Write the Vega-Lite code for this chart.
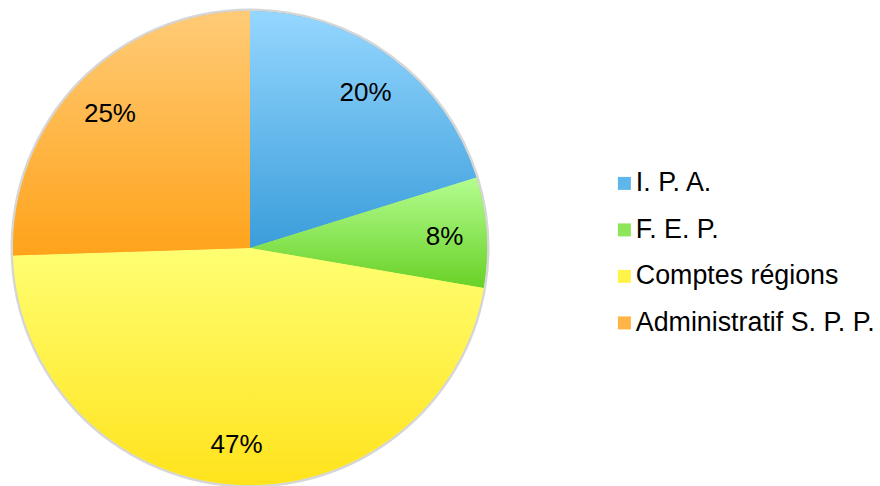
{
  "$schema": "https://vega.github.io/schema/vega-lite/v6.json",
  "width": 500,
  "height": 496,
  "padding": 0,
  "autosize": {"type": "pad"},
  "background": "white",
  "config": {"view": {"stroke": null}, "font": "Liberation Sans"},
  "data": {"values": [
    {"cat": "I. P. A.", "value": 20.2, "label": "20%", "k": 1},
    {"cat": "F. E. P.", "value": 7.5, "label": "8%", "k": 2},
    {"cat": "Comptes régions", "value": 46.8, "label": "47%", "k": 3},
    {"cat": "Administratif S. P. P.", "value": 25.5, "label": "25%", "k": 4}
  ]},
  "encoding": {
    "theta": {"field": "value", "type": "quantitative", "stack": true},
    "order": {"field": "k", "type": "ordinal"}
  },
  "layer": [
    {
      "mark": {"type": "arc", "radius": 239.5, "fill": "#777777", "opacity": 0.3, "strokeWidth": 0},
      "encoding": {}
    },
    {
      "mark": {"type": "arc", "radius": 237},
      "encoding": {
        "color": {
          "field": "cat", "type": "nominal",
          "scale": {
            "domain": ["I. P. A.", "F. E. P.", "Comptes régions", "Administratif S. P. P."],
            "range": ["#5fb6ea", "#8ee55a", "#fff249", "#ffb446"]
          },
          "legend": {
            "orient": "none", "legendX": 611, "legendY": 170,
            "title": null, "symbolType": "square", "symbolSize": 169,
            "symbolStrokeWidth": 0, "labelFontSize": 26.8, "labelColor": "black",
            "labelOffset": -2, "rowPadding": 18.5, "labelLimit": 400
          }
        }
      }
    },
    {
      "mark": {"type": "arc", "radius": 237},
      "encoding": {
        "fill": {
          "condition": [
            {"test": "datum.cat === 'I. P. A.'", "value": {"gradient": "linear", "x1": 0, "y1": 0, "x2": 0, "y2": 1, "stops": [{"offset": 0, "color": "#95d7ff"}, {"offset": 1, "color": "#3a9dda"}]}},
            {"test": "datum.cat === 'F. E. P.'", "value": {"gradient": "linear", "x1": 0, "y1": 0, "x2": 0, "y2": 1, "stops": [{"offset": 0, "color": "#b4fd90"}, {"offset": 1, "color": "#68d126"}]}},
            {"test": "datum.cat === 'Comptes régions'", "value": {"gradient": "linear", "x1": 0, "y1": 0, "x2": 0, "y2": 1, "stops": [{"offset": 0, "color": "#ffff72"}, {"offset": 1, "color": "#ffe31c"}]}}
          ],
          "value": {"gradient": "linear", "x1": 0, "y1": 0, "x2": 0, "y2": 1, "stops": [{"offset": 0, "color": "#ffcb77"}, {"offset": 1, "color": "#ffa31a"}]}
        }
      }
    },
    {
      "mark": {"type": "text", "radius": 195, "dy": 2, "fontSize": 26, "color": "black"},
      "encoding": {"text": {"field": "label", "type": "nominal"}}
    }
  ]
}
